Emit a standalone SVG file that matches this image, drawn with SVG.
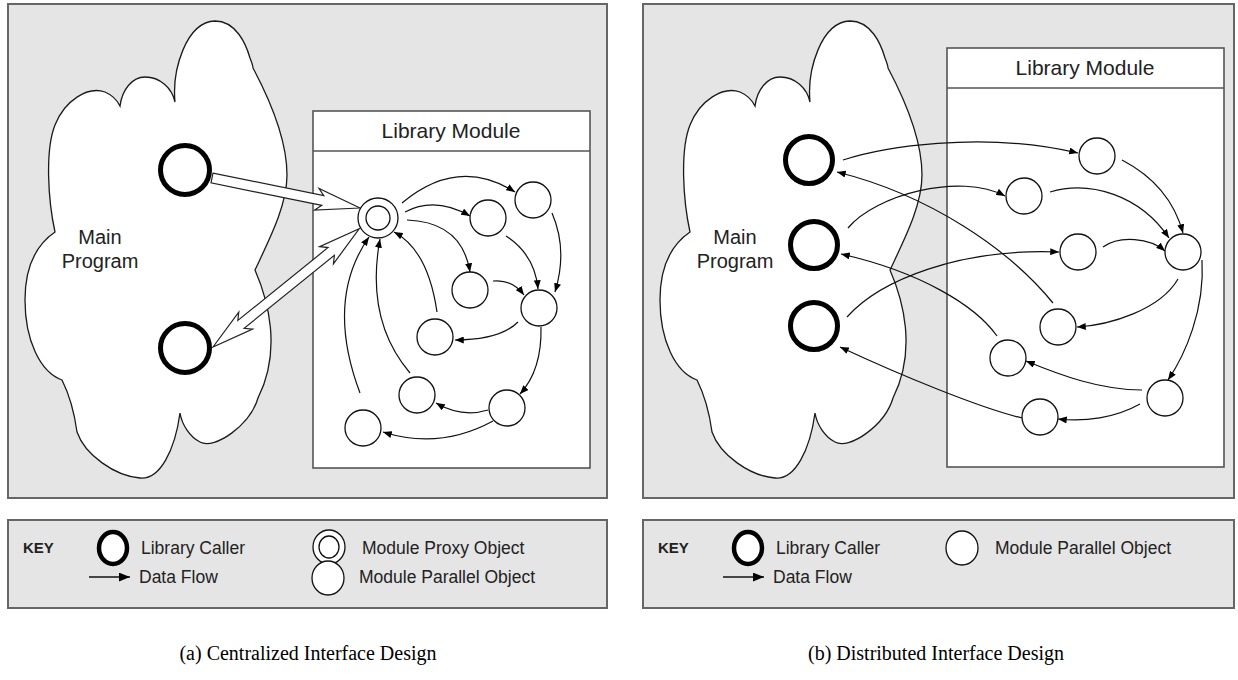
<svg xmlns="http://www.w3.org/2000/svg" width="1238" height="680" viewBox="0 0 1238 680">
  <style>
    .panel { fill: #e5e5e5; stroke: #666; stroke-width: 2; }
    .cloud { fill: #fff; stroke: #1a1a1a; stroke-width: 1.3; }
    .box { fill: #fff; stroke: #555; stroke-width: 1.6; }
    .caller { fill: #fff; stroke: #000; stroke-width: 5; }
    .obj { fill: #fff; stroke: #111; stroke-width: 1.3; }
    .flow { fill: none; stroke: #111; stroke-width: 1.2; marker-end: url(#ah); }
    .keyflow { fill: none; stroke: #111; stroke-width: 1.4; marker-end: url(#ahk); }
    .hollow { fill: #fff; stroke: #222; stroke-width: 1.2; stroke-linejoin: miter; }
    .sans { font-family: "Liberation Sans", Arial, sans-serif; fill: #222; }
    .title { font-size: 21px; text-anchor: middle; }
    .main { font-size: 20px; text-anchor: middle; }
    .key { font-size: 17.5px; }
    .keyhead { font-size: 15px; font-weight: bold; }
    .caption { font-family: "Liberation Serif", "Times New Roman", serif; font-size: 20px; fill: #000; text-anchor: middle; }
  </style>
  <defs>
    <marker id="ah" viewBox="0 0 10 8" refX="10" refY="4" markerWidth="9" markerHeight="7" orient="auto" markerUnits="userSpaceOnUse">
      <path d="M0,0 L10,4 L0,8 z" fill="#000"/>
    </marker>
    <marker id="ahk" viewBox="0 0 10 8" refX="10" refY="4" markerWidth="11" markerHeight="9" orient="auto" markerUnits="userSpaceOnUse">
      <path d="M0,0 L10,4 L0,8 z" fill="#000"/>
    </marker>
    <path id="cloudShape" d="M175,102 C172,70 186,22 215,21 C236,21 246,44 250,58 C252,63 253,66 253,68 C270,100 287,140 287,175 C287,205 270,238 255,270 C268,300 282,350 258,398 C250,425 215,450 200,442 C190,437 182,425 180,413 C175,450 160,480 140,478 C115,476 85,455 77,432 C74,410 68,392 62,380 C40,372 25,340 25,300 C25,268 36,245 55,232 C48,200 45,150 55,125 C65,100 88,86 105,92 C112,95 117,100 120,106 C122,90 132,77 145,77 C160,77 172,88 175,102 Z"/>
  </defs>

  <!-- ===== (a) centralized ===== -->
  <g id="panel-a">
    <rect class="panel" x="8" y="4" width="599" height="494"/>
  </g>
  <g id="main-program-a">
    <use href="#cloudShape" class="cloud"/>
    <text class="sans main" x="100" y="244">Main</text>
    <text class="sans main" x="100" y="268">Program</text>
  </g>
  <g id="library-module-a">
    <rect class="box" x="313" y="111" width="277" height="357"/>
    <line x1="313" y1="151" x2="590" y2="151" stroke="#555" stroke-width="1.6"/>
    <text class="sans title" x="451" y="138">Library Module</text>
  </g>

  <g id="connectors-a">
    <path class="flow" d="M402,203 Q458,156 515,192"/>
    <path class="flow" d="M405,212 Q435,196 470,216"/>
    <path class="flow" d="M407,220 Q462,222 470,272"/>
    <path class="flow" d="M506,236 Q535,255 538,289"/>
    <path class="flow" d="M552,213 Q568,250 555,292"/>
    <path class="flow" d="M493,281 Q512,279 524,295"/>
    <path class="flow" d="M518,322 Q500,340 455,340"/>
    <path class="flow" d="M541,327 Q542,370 520,394"/>
    <path class="flow" d="M488,410 Q462,418 436,403"/>
    <path class="flow" d="M493,421 Q440,450 383,432"/>
    <path class="flow" d="M437,312 Q428,250 394,232"/>
    <path class="flow" d="M410,373 Q365,320 380,239"/>
    <path class="flow" d="M360,393 Q325,300 369,237"/>
    <!-- caller to proxy, proxy to caller -->
    <polygon class="hollow" transform="translate(212,178) rotate(11.46)" points="0,-5 113,-5 107,-11 151,0 107,11 113,5 0,5"/>
    <polygon class="hollow" transform="translate(213,347) rotate(-38.95)" points="0,0 42,-11 36,-5 152,-5 146,-11 188,0 146,11 152,5 36,5 42,11"/>
  </g>

  <g id="caller-a1"><circle class="caller" cx="185" cy="170" r="24.5"/></g>
  <g id="caller-a2"><circle class="caller" cx="185" cy="348" r="24.5"/></g>
  <g id="proxy-a">
    <circle class="obj" cx="378" cy="218" r="20"/>
    <circle class="obj" cx="378" cy="218" r="12"/>
  </g>
  <g id="obj-a1"><circle class="obj" cx="533" cy="200" r="18"/></g>
  <g id="obj-a2"><circle class="obj" cx="488" cy="218" r="18"/></g>
  <g id="obj-a3"><circle class="obj" cx="470" cy="290" r="18"/></g>
  <g id="obj-a4"><circle class="obj" cx="539" cy="308" r="18"/></g>
  <g id="obj-a5"><circle class="obj" cx="435" cy="337" r="18"/></g>
  <g id="obj-a6"><circle class="obj" cx="417" cy="395" r="18"/></g>
  <g id="obj-a7"><circle class="obj" cx="507" cy="408" r="18"/></g>
  <g id="obj-a8"><circle class="obj" cx="363" cy="428" r="18"/></g>

  <g id="key-a">
    <rect class="panel" x="8" y="520" width="599" height="88"/>
    <text class="sans keyhead" x="23" y="553">KEY</text>
    <ellipse cx="113" cy="548" rx="14" ry="16" fill="#fff" stroke="#000" stroke-width="4.5"/>
    <text class="sans key" x="141" y="554">Library Caller</text>
    <ellipse class="obj" cx="329" cy="547" rx="16" ry="17"/>
    <ellipse class="obj" cx="329" cy="547" rx="10" ry="11"/>
    <text class="sans key" x="362" y="554">Module Proxy Object</text>
    <line class="keyflow" x1="89" y1="577" x2="130" y2="577"/>
    <text class="sans key" x="139" y="583">Data Flow</text>
    <ellipse class="obj" cx="328" cy="578" rx="16" ry="17"/>
    <text class="sans key" x="359" y="583">Module Parallel Object</text>
  </g>
  <text class="caption" x="308" y="660">(a) Centralized Interface Design</text>

  <!-- ===== (b) distributed ===== -->
  <g id="panel-b">
    <rect class="panel" x="643" y="4" width="591" height="494"/>
  </g>
  <g id="main-program-b">
    <use href="#cloudShape" class="cloud" transform="translate(635,0)"/>
    <text class="sans main" x="735" y="244">Main</text>
    <text class="sans main" x="735" y="268">Program</text>
  </g>
  <g id="library-module-b">
    <rect class="box" x="947" y="48" width="277" height="419"/>
    <line x1="947" y1="88" x2="1224" y2="88" stroke="#555" stroke-width="1.6"/>
    <text class="sans title" x="1085" y="75">Library Module</text>
  </g>

  <g id="connectors-b">
    <path class="flow" d="M843,160 C880,148 980,130 1078,153"/>
    <path class="flow" d="M848,228 C875,195 960,172 1005,196"/>
    <path class="flow" d="M847,317 C880,280 960,248 1059,252"/>
    <path class="flow" d="M1053,303 C1010,250 930,195 837,172"/>
    <path class="flow" d="M997,336 C975,305 920,272 841,254"/>
    <path class="flow" d="M1022,418 C980,408 900,375 840,347"/>
    <path class="flow" d="M1122,160 Q1170,185 1183,233"/>
    <path class="flow" d="M1050,192 C1090,180 1140,195 1169,238"/>
    <path class="flow" d="M1103,247 C1120,235 1150,238 1165,251"/>
    <path class="flow" d="M1178,279 C1160,310 1110,325 1077,327"/>
    <path class="flow" d="M1202,260 C1205,310 1185,355 1168,380"/>
    <path class="flow" d="M1142,390 C1100,390 1060,375 1026,361"/>
    <path class="flow" d="M1140,404 C1115,418 1085,422 1058,419"/>
  </g>

  <g id="caller-b1"><circle class="caller" cx="809" cy="160" r="23.5"/></g>
  <g id="caller-b2"><circle class="caller" cx="814" cy="245" r="23.5"/></g>
  <g id="caller-b3"><circle class="caller" cx="814" cy="326" r="23.5"/></g>
  <g id="obj-b1"><circle class="obj" cx="1097" cy="156" r="18"/></g>
  <g id="obj-b2"><circle class="obj" cx="1024" cy="196" r="18"/></g>
  <g id="obj-b3"><circle class="obj" cx="1078" cy="252" r="18"/></g>
  <g id="obj-b4"><circle class="obj" cx="1183" cy="252" r="18"/></g>
  <g id="obj-b5"><circle class="obj" cx="1058" cy="327" r="18"/></g>
  <g id="obj-b6"><circle class="obj" cx="1008" cy="358" r="18"/></g>
  <g id="obj-b7"><circle class="obj" cx="1165" cy="398" r="18"/></g>
  <g id="obj-b8"><circle class="obj" cx="1040" cy="417" r="18"/></g>

  <g id="key-b">
    <rect class="panel" x="643" y="520" width="591" height="88"/>
    <text class="sans keyhead" x="658" y="553">KEY</text>
    <ellipse cx="748" cy="548" rx="14" ry="16" fill="#fff" stroke="#000" stroke-width="4.5"/>
    <text class="sans key" x="776" y="554">Library Caller</text>
    <ellipse class="obj" cx="962" cy="548" rx="16" ry="17"/>
    <text class="sans key" x="995" y="554">Module Parallel Object</text>
    <line class="keyflow" x1="723" y1="577" x2="764" y2="577"/>
    <text class="sans key" x="773" y="583">Data Flow</text>
  </g>
  <text class="caption" x="936" y="660">(b) Distributed Interface Design</text>
</svg>
